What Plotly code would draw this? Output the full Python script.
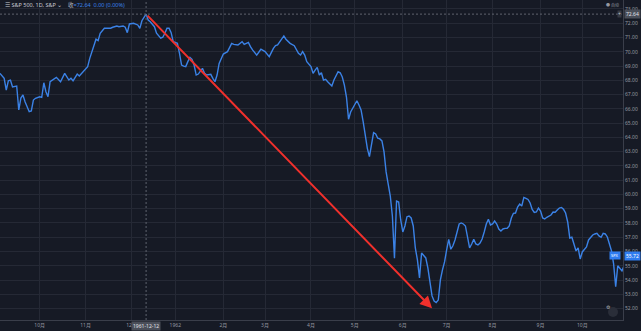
import pandas as pd
import plotly.graph_objects as go

# ---- data ----
START_DAY = "1961-09-05"          # first trading day shown
N_DAYS = 300                      # weekdays covered by the chart

day_offset = [0, 2, 3, 4, 5, 6, 8, 9, 10, 11, 12, 14, 15, 16, 17, 19, 20, 21, 22, 23,
              24, 26, 27, 29, 31, 33, 34, 35, 37, 38, 40, 42, 43, 45, 46, 47, 48, 50, 51, 53,
              54, 56, 57, 59, 60, 61, 62, 64, 66, 67, 68, 70, 71, 72, 74, 75, 77, 78, 79, 80,
              81, 82, 83, 85, 86, 87, 88, 89, 90, 91, 92, 93, 94, 95, 97, 98, 99, 101, 102, 103,
              104, 105, 107, 108, 109, 111, 112, 114, 116, 117, 119, 120, 121, 123, 124, 125, 127, 129, 131, 132,
              133, 135, 136, 137, 139, 141, 143, 144, 145, 146, 147, 149, 150, 151, 152, 153, 154, 155, 156, 157] \
    + list(range(159, 300))

close = [68.49, 68.14, 67.32, 67.97, 68.02, 67.53, 67.60, 65.92, 66.76, 66.97, 66.50, 65.80, 65.85, 66.62, 66.74, 66.85, 66.81, 67.83, 67.20, 66.85,
         67.90, 68.14, 68.21, 67.90, 68.49, 68.02, 68.14, 67.97, 68.44, 68.30, 68.60, 68.95, 69.54, 70.36, 70.88, 70.78, 71.30, 71.65, 71.65, 71.65,
         71.72, 71.81, 71.76, 71.81, 71.72, 71.34, 71.95, 72.00, 71.88, 71.65, 72.18, 72.64, 72.23, 72.11, 71.76, 71.30, 70.95, 71.02, 71.30, 71.65,
         71.65, 71.34, 70.71, 70.59, 69.89, 69.07, 69.00, 68.96, 69.31, 69.61, 69.47, 69.07, 68.37, 68.44, 68.84, 68.49, 68.37, 68.42, 68.14, 67.90,
         68.37, 69.19, 69.84, 69.94, 70.01, 70.59, 70.52, 70.48, 70.71, 70.52, 70.66, 70.36, 70.13, 69.77, 70.01, 70.18, 70.01, 69.66, 70.24, 70.43,
         70.48, 70.95, 71.11, 70.88, 70.59, 70.43, 69.89, 69.77, 70.01, 69.77, 69.31, 68.96, 68.49, 68.72, 68.91, 68.37, 68.53, 68.02, 68.07, 67.90,
         # day 159 onwards, one value per weekday
         67.60, 68.02, 68.37, 68.60, 68.53, 68.23, 67.67, 66.83, 65.27, 65.78,
         66.04, 66.34, 66.57, 66.27, 65.92, 65.10, 64.17, 63.23, 62.65, 63.47,
         64.33, 64.24, 63.94, 63.89, 63.75, 62.98, 61.58, 60.73, 59.89, 58.49,
         55.53, 59.54, 59.47, 58.21, 57.37, 57.79, 58.44, 58.49, 58.35, 57.79,
         56.25, 55.41, 54.15, 55.90, 55.76, 55.55, 54.85, 53.73, 52.89, 52.53,
         52.42, 52.60, 54.01, 54.71, 55.27, 56.11, 56.85, 56.16, 56.40, 56.81,
         57.37, 57.93, 58.00, 57.93, 57.79, 56.95, 56.25, 56.53, 56.85, 56.53,
         56.46, 56.60, 56.88, 57.37, 57.93, 58.26, 57.86, 57.93, 58.14, 57.93,
         57.58, 57.44, 57.58, 57.62, 57.63, 57.79, 58.35, 58.68, 58.70, 59.12,
         59.33, 59.19, 59.79, 59.73, 59.65, 59.40, 58.95, 58.74, 58.77, 59.05,
         58.84, 58.35, 58.28, 58.40, 58.46, 58.56, 58.77, 58.75, 58.91, 59.05,
         59.09, 58.96, 58.70, 58.07, 56.95, 57.00, 56.53, 56.04, 56.25, 55.48,
         55.97, 56.14, 56.32, 56.81, 57.02, 57.16, 57.23, 57.28, 57.09, 57.00,
         57.27, 57.23, 57.02, 56.60, 56.04, 55.13, 53.54, 55.00, 54.85, 54.64,
         55.72]

month_ticks = ["1961-10-02", "1961-11-01", "1961-12-01", "1962-01-01", "1962-02-01", "1962-03-01",
               "1962-04-02", "1962-05-01", "1962-06-01", "1962-07-02", "1962-08-01", "1962-09-03",
               "1962-10-01"]
month_labels = ["10月", "11月", "12月", "1962", "2月", "3月", "4月", "5月", "6月", "7月", "8月", "9月", "10月"]

cursor_date = "1961-12-12"
cursor_value = 72.64
last_value = 55.72
arrow_start = ("1961-12-12", 72.64)
arrow_end = ("1962-06-21", 52.02)

y_range = [51.20, 73.63]
x_range = ["1961-09-05", "1962-10-26 12:00"]

# ---- styling ----
BG = "#161a25"
GRID = "#252935"
AXIS = "#3a3e4a"
LINE = "#3b82e6"
TXT = "#9598a1"
FONT = "Noto Sans, Noto Sans CJK SC, sans-serif"

all_days = pd.bdate_range(START_DAY, periods=N_DAYS)
dates = all_days[day_offset]

fig = go.Figure()
fig.add_trace(go.Scatter(x=dates, y=close, mode="lines",
                         line=dict(color=LINE, width=1.4), hoverinfo="skip"))

fig.update_layout(
    width=641, height=331,
    margin=dict(l=0, r=18, t=0, b=11),
    paper_bgcolor=BG, plot_bgcolor=BG,
    showlegend=False,
    font=dict(family=FONT, size=5, color=TXT),
)
fig.update_xaxes(type="date", range=x_range,
                 rangebreaks=[dict(bounds=["sat", "mon"])],
                 tickvals=month_ticks, ticktext=month_labels,
                 showgrid=True, gridcolor=GRID, gridwidth=1,
                 showline=True, linecolor=AXIS, linewidth=1,
                 ticks="", zeroline=False, tickfont=dict(size=5, color=TXT))
fig.update_yaxes(side="right", range=y_range, dtick=1, tick0=0, tickformat=".2f",
                 showgrid=True, gridcolor=GRID, gridwidth=1,
                 showline=True, linecolor=AXIS, linewidth=1,
                 ticks="", zeroline=False, tickfont=dict(size=5, color=TXT))

# crosshair
fig.add_shape(type="line", xref="x", yref="paper", x0=cursor_date, x1=cursor_date, y0=0, y1=1,
              line=dict(color="#5f636e", width=1, dash="2px,2px"))
fig.add_shape(type="line", xref="paper", yref="y", x0=0, x1=1, y0=cursor_value, y1=cursor_value,
              line=dict(color="#5f636e", width=1, dash="2px,2px"))

# red arrow
fig.add_annotation(x=arrow_end[0], y=arrow_end[1], ax=arrow_start[0], ay=arrow_start[1],
                   xref="x", yref="y", axref="x", ayref="y", text="",
                   showarrow=True, arrowhead=2, arrowsize=1.2, arrowwidth=2,
                   arrowcolor="#f0302c", standoff=0)

# crosshair labels
fig.add_annotation(x=cursor_date, y=0, xref="x", yref="paper", yanchor="top", yshift=-1,
                   text="1961-12-12", showarrow=False, bgcolor="#4a4e59",
                   font=dict(size=5, color="#e0e3eb"), borderpad=1)
fig.add_annotation(x=1, y=cursor_value, xref="paper", yref="y", xanchor="left", xshift=1,
                   text="72.64", showarrow=False, bgcolor="#4a4e59",
                   font=dict(size=5, color="#e0e3eb"), borderpad=1)
fig.add_annotation(x=1, y=cursor_value, xref="paper", yref="y", xanchor="right", xshift=-1,
                   text="+", showarrow=False, bgcolor="#363a45",
                   font=dict(size=5, color="#c0c3cb"), borderpad=0)

# last value badge
fig.add_annotation(x=1, y=last_value, xref="paper", yref="y", xanchor="left", xshift=1,
                   text=f"{last_value:.2f}", showarrow=False, bgcolor="#2f7cf0",
                   font=dict(size=5, color="#ffffff"), borderpad=1)
fig.add_annotation(x=1, y=last_value, xref="paper", yref="y", xanchor="right", xshift=-2,
                   text="SPX", showarrow=False, bgcolor="#2f7cf0",
                   font=dict(size=4, color="#ffffff"), borderpad=1)

# header
fig.add_annotation(x=0.005, y=0.985, xref="paper", yref="paper", xanchor="left", yanchor="middle",
                   text=("<span style='color:#c8cbd3'>☰ S&P 500, 1D, S&P ⌄</span>"
                         "    <span style='color:#b2b5be'>收</span>"
                         "<span style='color:#3b82e6'>=72.64  0.00 (0.00%)</span>"),
                   showarrow=False, font=dict(size=5.5))
fig.add_annotation(x=1, y=1, xref="paper", yref="paper", xanchor="right", yanchor="top",
                   xshift=-2, yshift=0,
                   text="● 自动", showarrow=False, font=dict(size=4, color="#9598a1"))

# settings button bottom right
fig.add_shape(type="circle", xref="paper", yref="paper",
              x0=608 / 623, x1=618 / 623, y0=(320 - 317) / 320, y1=(320 - 307) / 320,
              fillcolor="#2a2e39", line=dict(width=0))
fig.add_annotation(x=613 / 623, y=(320 - 312) / 320, xref="paper", yref="paper",
                   text="⚙", showarrow=False, font=dict(size=5, color="#b2b5be"))

fig.write_html("out.html")
